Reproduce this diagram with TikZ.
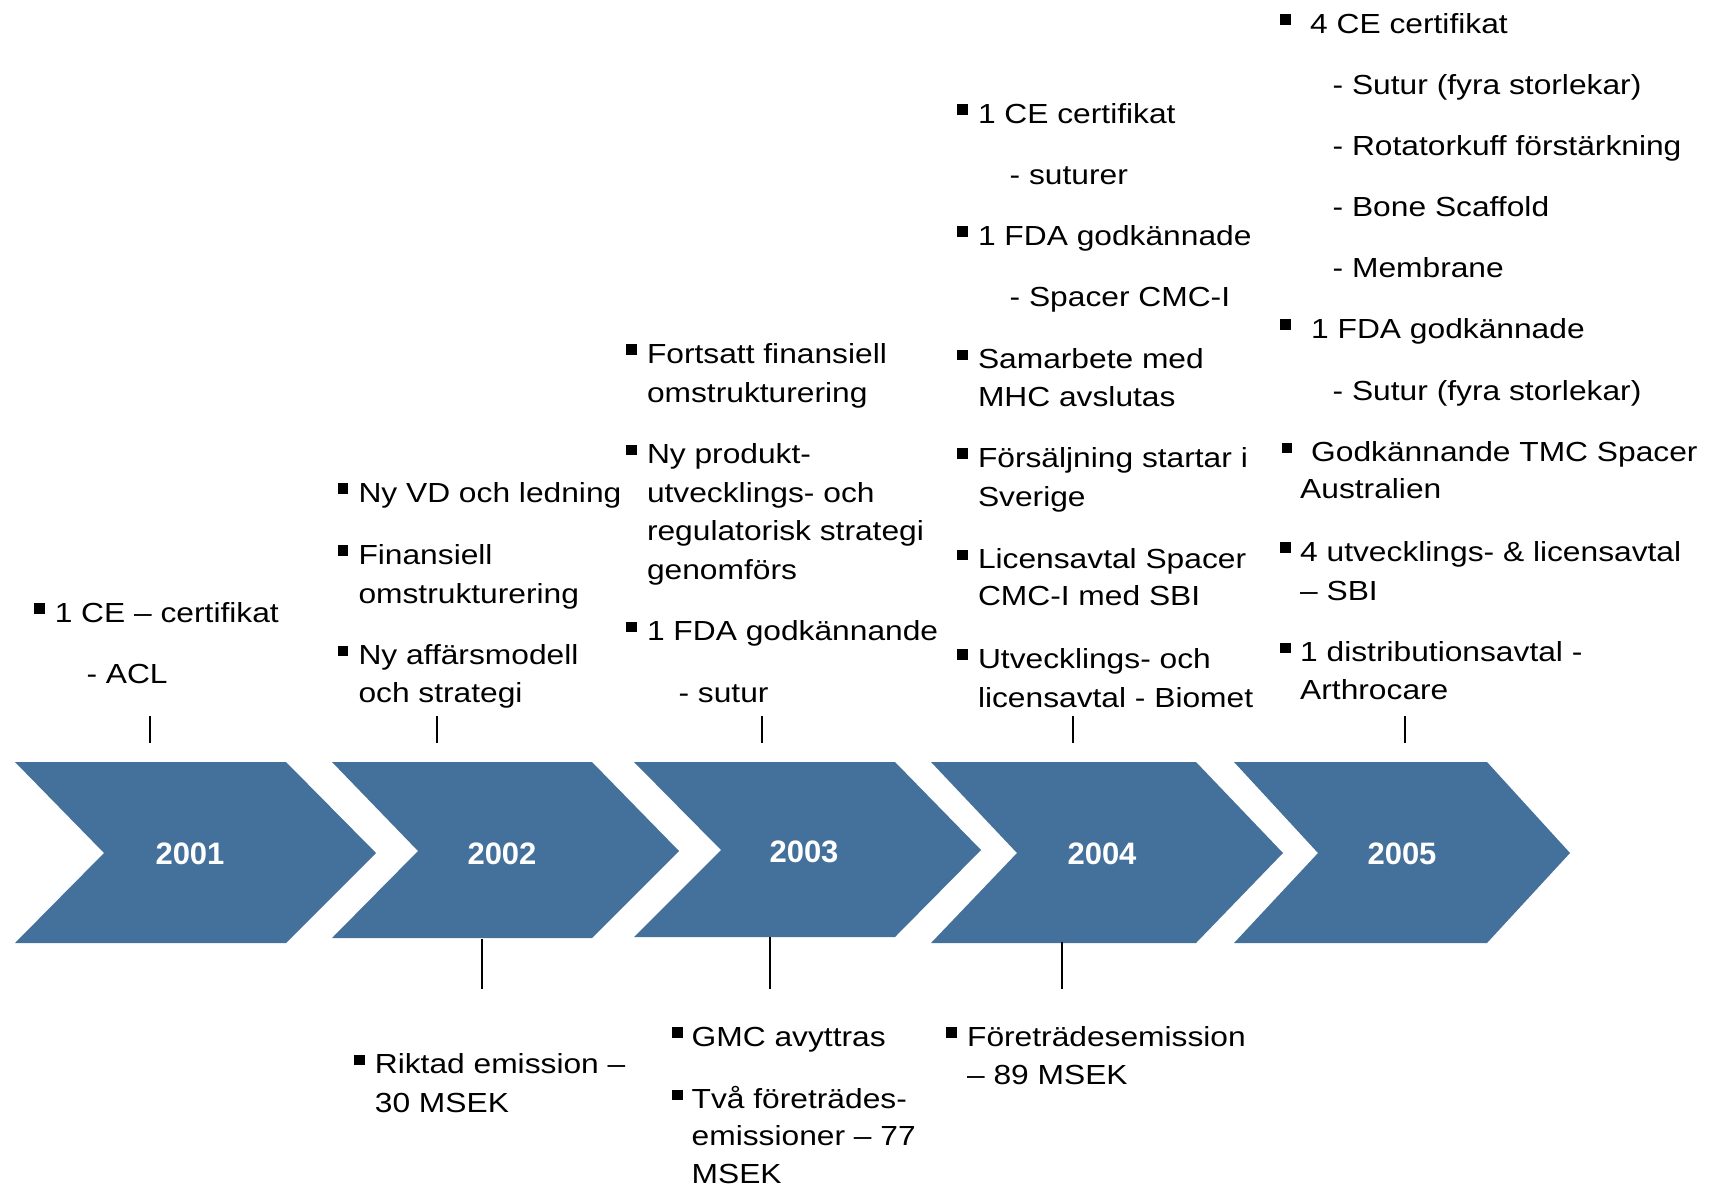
\documentclass[tikz,border=0pt]{standalone}
\usepackage{fontspec}
\setmainfont{Liberation Sans}
\newfontfamily\bodyfont{Liberation Sans}[FakeStretch=1.15]
\definecolor{chev}{RGB}{68,113,155}
\newcommand\bulsq[2]{\fill[black] (#1,#2-19) rectangle (#1+10.5,#2-8.5);}
\begin{document}
\begin{tikzpicture}[x=1pt,y=-1pt,
  txt/.style={anchor=base west,inner sep=0pt,font=\bodyfont\fontsize{27.6}{33}\selectfont},
  yr/.style={text=white,inner sep=0pt,font=\bfseries\fontsize{31}{36}\selectfont},
  tickline/.style={draw=black,line width=2.2pt},
  chevfill/.style={fill=chev}]
\useasboundingbox (0,0) rectangle (1713,1186);
% chevrons
\fill[chevfill] (15,762) -- (286,762) -- (376,853) -- (286,943) -- (15,943) -- (104,853) -- cycle;
\fill[chevfill] (332,762) -- (592,762) -- (679,851) -- (592,938) -- (332,938) -- (418,851) -- cycle;
\fill[chevfill] (634,762) -- (895,762) -- (981,850) -- (895,937) -- (634,937) -- (721,850) -- cycle;
\fill[chevfill] (931,762) -- (1196,762) -- (1283,853) -- (1196,943) -- (931,943) -- (1017,853) -- cycle;
\fill[chevfill] (1234,762) -- (1487,762) -- (1570,853) -- (1487,943) -- (1234,943) -- (1318,853) -- cycle;
\node[yr] (y2001) at (190,854) {2001};
\node[yr] (y2002) at (502,854) {2002};
\node[yr] (y2003) at (804,852) {2003};
\node[yr] (y2004) at (1102,854) {2004};
\node[yr] (y2005) at (1402,854) {2005};
% ticks
\coordinate (ta1) at (150,716); \coordinate (tb1) at (150,743);
\coordinate (ta2) at (437,716); \coordinate (tb2) at (437,743);
\coordinate (ta3) at (762,716); \coordinate (tb3) at (762,743);
\coordinate (ta4) at (1073,716); \coordinate (tb4) at (1073,743);
\coordinate (ta5) at (1405,716); \coordinate (tb5) at (1405,743);
\draw[tickline] (ta1) -- (tb1); \draw[tickline] (ta2) -- (tb2);
\draw[tickline] (ta3) -- (tb3); \draw[tickline] (ta4) -- (tb4);
\draw[tickline] (ta5) -- (tb5);
\coordinate (ba2) at (482,939); \coordinate (bb2) at (482,989);
\coordinate (ba3) at (770,937); \coordinate (bb3) at (770,989);
\coordinate (ba4) at (1062,942); \coordinate (bb4) at (1062,989);
\draw[tickline] (ba2) -- (bb2); \draw[tickline] (ba3) -- (bb3);
\draw[tickline] (ba4) -- (bb4);
% 2001
\bulsq{34}{622.3}
\node[txt] (a1) at (54.6,622.3) {1 CE – certifikat};
\node[txt] (a2) at (86.3,683.5) {- ACL};
% 2002
\bulsq{337.6}{502.1}
\node[txt] (b1) at (358.3,502.1) {Ny VD och ledning};
\bulsq{337.6}{564.4}
\node[txt] (b2) at (358.3,564.4) {Finansiell};
\node[txt] (b3) at (358.3,603.7) {omstrukturering};
\bulsq{337.6}{664.9}
\node[txt] (b4) at (358.3,664.9) {Ny affärsmodell};
\node[txt] (b5) at (358.3,702.1) {och strategi};
% 2003
\bulsq{626}{363.4}
\node[txt] (c1) at (646.8,363.4) {Fortsatt finansiell};
\node[txt] (c2) at (646.8,402.7) {omstrukturering};
\bulsq{626}{463.9}
\node[txt] (c3) at (646.8,463.9) {Ny produkt-};
\node[txt] (c4) at (646.8,502.1) {utvecklings- och};
\node[txt] (c5) at (646.8,540.4) {regulatorisk strategi};
\node[txt] (c6) at (646.8,579.7) {genomförs};
\bulsq{626}{640.9}
\node[txt] (c7) at (646.8,640.9) {1 FDA godkännande};
\node[txt] (c8) at (678.4,702.1) {- sutur};
% 2004
\bulsq{957}{123}
\node[txt] (d1) at (977.8,123) {1 CE certifikat};
\node[txt] (d2) at (1009.5,184.2) {- suturer};
\bulsq{957}{245.4}
\node[txt] (d3) at (977.8,245.4) {1 FDA godkännade};
\node[txt] (d4) at (1009.5,306.6) {- Spacer CMC-I};
\bulsq{957}{368.8}
\node[txt] (d5) at (977.8,368.8) {Samarbete med};
\node[txt] (d6) at (977.8,406) {MHC avslutas};
\bulsq{957}{467.2}
\node[txt] (d7) at (977.8,467.2) {Försäljning startar i};
\node[txt] (d8) at (977.8,506.5) {Sverige};
\bulsq{957}{568.8}
\node[txt] (d9) at (977.8,568.8) {Licensavtal Spacer};
\node[txt] (d10) at (977.8,605.9) {CMC-I med SBI};
\bulsq{957}{668.2}
\node[txt] (d11) at (977.8,668.2) {Utvecklings- och};
\node[txt] (d12) at (977.8,707.5) {licensavtal - Biomet};
% 2005
\bulsq{1280.4}{33}
\node[txt] (e1) at (1310,33) {4 CE certifikat};
\node[txt] (e2) at (1332.5,94) {- Sutur (fyra storlekar)};
\node[txt] (e3) at (1332.5,155) {- Rotatorkuff förstärkning};
\node[txt] (e4) at (1332.5,216.3) {- Bone Scaffold};
\node[txt] (e5) at (1332.5,277.5) {- Membrane};
\bulsq{1280.4}{338.3}
\node[txt] (e6) at (1311,338.3) {1 FDA godkännade};
\node[txt] (e7) at (1332.5,400.5) {- Sutur (fyra storlekar)};
\bulsq{1281.5}{461.7}
\node[txt] (e8) at (1311,461.7) {Godkännande TMC Spacer};
\node[txt] (e9) at (1300,498.8) {Australien};
\bulsq{1280.4}{561.1}
\node[txt] (e10) at (1300,561.1) {4 utvecklings- \& licensavtal};
\node[txt] (e11) at (1300,600.5) {– SBI};
\bulsq{1280.4}{661.6}
\node[txt] (e12) at (1300,661.6) {1 distributionsavtal -};
\node[txt] (e13) at (1300,699.9) {Arthrocare};
% bottom
\bulsq{354}{1073.5}
\node[txt] (f1) at (374.7,1073.5) {Riktad emission –};
\node[txt] (f2) at (374.7,1112.8) {30 MSEK};
\bulsq{672}{1046.2}
\node[txt] (g1) at (691.5,1046.2) {GMC avyttras};
\bulsq{672}{1108.5}
\node[txt] (g2) at (691.5,1108.5) {Två företrädes-};
\node[txt] (g3) at (691.5,1145.6) {emissioner – 77};
\node[txt] (g4) at (691.5,1183) {MSEK};
\bulsq{946}{1046.2}
\node[txt] (h1) at (966.9,1046.2) {Företrädesemission};
\node[txt] (h2) at (966.9,1084.4) {– 89 MSEK};
\end{tikzpicture}
\end{document}
